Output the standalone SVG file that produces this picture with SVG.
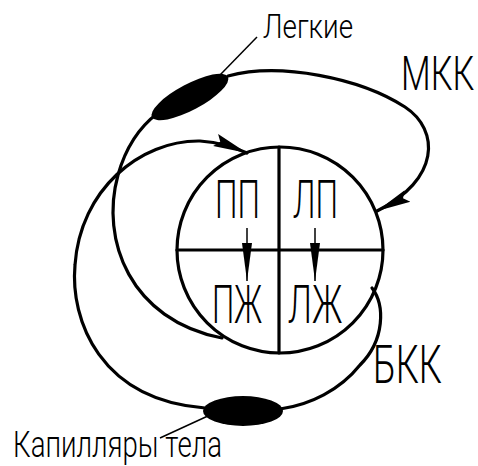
<svg xmlns="http://www.w3.org/2000/svg" width="478" height="466" viewBox="0 0 478 466">
<style>
.ln{fill:none;stroke:#000;stroke-width:3.2;stroke-linecap:round}
.thin{fill:none;stroke:#000;stroke-width:1.5}
.org{fill:#000}
.t{font-family:Roboto,"Liberation Sans",sans-serif;font-weight:300;fill:#000}
</style>
<defs>
<marker id="ah" markerUnits="userSpaceOnUse" markerWidth="40" markerHeight="18" refX="34" refY="8" orient="auto">
<path d="M0,1.5 L34,8 L0,14.5 L5,8 Z" fill="#000"/>
</marker>
<marker id="ahs" markerUnits="userSpaceOnUse" markerWidth="40" markerHeight="14" refX="38" refY="6" orient="auto">
<path d="M0,1 L38,6 L0,11 Z" fill="#000"/>
</marker>
</defs>
<g id="connectors">
<path id="mkk" class="ln" d="M228,76 C280,62 360,78 405,107 C440,130 440,180 377,211" marker-end="url(#ah)"/>
<path id="pulm-artery" class="ln" d="M222,338 C130,320 100,240 118,175 C125,150 138,128 158,113"/>
<path id="vena" class="ln" d="M205,408 C100,400 70,320 75,265 C80,190 140,140 200,141 C220,142 235,148 247,153" marker-end="url(#ah)"/>
<path id="bkk" class="ln" d="M372,288 C385,305 385,340 360,365 C340,390 310,405 280,409"/>
<path class="thin" d="M247,228 L247,281" marker-end="url(#ahs)"/>
<path class="thin" d="M315,228 L315,281" marker-end="url(#ahs)"/>
<line class="thin" x1="220" y1="75" x2="257" y2="37"/>
<line class="thin" x1="210" y1="415" x2="160" y2="438"/>
</g>
<g id="heart">
<circle class="ln" cx="280" cy="250" r="103"/>
<line class="ln" x1="279" y1="147" x2="279" y2="353"/>
<line class="ln" x1="177" y1="250" x2="383" y2="250"/>
<text class="t" x="215" y="218" font-size="53" textLength="45" lengthAdjust="spacingAndGlyphs">ПП</text>
<text class="t" x="293" y="218" font-size="53" textLength="45" lengthAdjust="spacingAndGlyphs">ЛП</text>
<text class="t" x="212" y="323" font-size="53" textLength="50" lengthAdjust="spacingAndGlyphs">ПЖ</text>
<text class="t" x="288" y="323" font-size="53" textLength="54" lengthAdjust="spacingAndGlyphs">ЛЖ</text>
</g>
<g id="lungs">
<ellipse class="org" cx="190" cy="97" rx="43" ry="13" transform="rotate(-28 190 97)"/>
<text class="t" x="263" y="38" font-size="34" textLength="90" lengthAdjust="spacingAndGlyphs">Легкие</text>
</g>
<g id="capillaries">
<ellipse class="org" cx="243" cy="411" rx="40" ry="15"/>
<text class="t" x="13" y="457" font-size="36" textLength="209" lengthAdjust="spacingAndGlyphs">Капилляры тела</text>
</g>
<g id="labels">
<text class="t" transform="translate(401,90) scale(0.7,1)" x="0" y="0" font-size="49">МКК</text>
<text class="t" x="373" y="383" font-size="53" textLength="69" lengthAdjust="spacingAndGlyphs">БКК</text>
</g>
</svg>
